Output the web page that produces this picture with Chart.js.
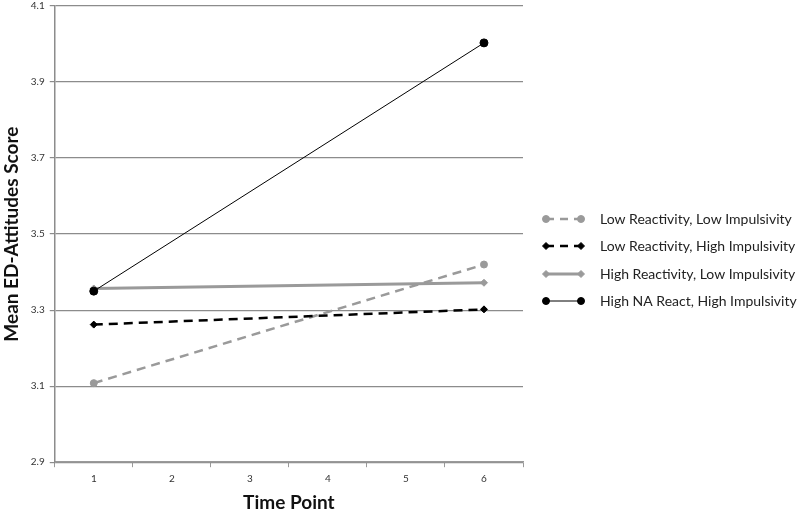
<!DOCTYPE html>
<html>
<head>
<meta charset="utf-8">
<script src="https://cdn.jsdelivr.net/npm/chart.js@4.4.1/dist/chart.umd.min.js"></script>
<style>
  html, body { margin: 0; padding: 0; background: #ffffff; }
  #wrap { width: 800px; height: 516px; }
</style>
</head>
<body>
<div id="wrap"><canvas id="c" width="800" height="516"></canvas></div>
<script>
const categories = ['1', '2', '3', '4', '5', '6'];
const seriesNames = [
  'Low Reactivity, Low Impulsivity',
  'Low Reactivity, High Impulsivity',
  'High Reactivity, Low Impulsivity',
  'High NA React, High Impulsivity'
];
const lowReactLowImp  = [3.108, null, null, null, null, 3.42];
const lowReactHighImp = [3.262, null, null, null, null, 3.302];
const highReactLowImp = [3.357, null, null, null, null, 3.372];
const highNAHighImp   = [3.35,  null, null, null, null, 4.003];
const yTicks = [2.9, 3.1, 3.3, 3.5, 3.7, 3.9, 4.1];

const FONT = "Lato, 'Open Sans', 'Liberation Sans', sans-serif";
const GRAY = '#9a9a9a';
const BLACK = '#000000';

const styles = [
  { color: GRAY,  width: 2.5, dash: [9, 6], point: 'circle',  radius: 3.5 },
  { color: BLACK, width: 2.5, dash: [9, 6], point: 'rectRot', radius: 3.5 },
  { color: GRAY,  width: 3,   dash: [],     point: 'rectRot', radius: 3.5 },
  { color: BLACK, width: 1,   dash: [],     point: 'circle',  radius: 4 }
];
const values = [lowReactLowImp, lowReactHighImp, highReactLowImp, highNAHighImp];

const datasets = values.map((v, i) => ({
  label: seriesNames[i],
  data: v,
  spanGaps: true,
  borderColor: styles[i].color,
  backgroundColor: styles[i].color,
  borderWidth: styles[i].width,
  borderDash: styles[i].dash,
  pointStyle: styles[i].point,
  pointRadius: styles[i].radius,
  pointBackgroundColor: styles[i].color,
  pointBorderColor: styles[i].color,
  pointBorderWidth: 1,
  tension: 0,
  fill: false
}));
datasets.forEach((d, i) => d.order = 4 - i);

const legendPlugin = {
  id: 'sideLegend',
  afterDraw(chart) {
    const ctx = chart.ctx;
    const x0 = 546, x1 = 581, tx = 600;
    const ys = [219, 246, 274, 301];
    ctx.save();
    chart.data.datasets.forEach((ds, i) => {
      const y = ys[i];
      ctx.strokeStyle = ds.borderColor;
      ctx.lineWidth = ds.borderWidth;
      ctx.setLineDash(ds.borderDash.length ? [8, 6] : []);
      ctx.beginPath();
      ctx.moveTo(x0, y);
      ctx.lineTo(x1, y);
      ctx.stroke();
      ctx.setLineDash([]);
      const opts = { pointStyle: ds.pointStyle, radius: Math.min(ds.pointRadius, 3.5), borderWidth: 1, rotation: 0 };
      ctx.fillStyle = ds.borderColor;
      ctx.strokeStyle = ds.borderColor;
      ctx.lineWidth = 1;
      Chart.helpers.drawPoint(ctx, opts, x0, y);
      Chart.helpers.drawPoint(ctx, opts, x1, y);
      ctx.fillStyle = '#222';
      ctx.font = '14px ' + FONT;
      ctx.textAlign = 'left';
      ctx.textBaseline = 'middle';
      ctx.fillText(ds.label, tx, y);
    });
    ctx.restore();
  }
};

new Chart(document.getElementById('c'), {
  type: 'line',
  data: { labels: categories, datasets: datasets },
  options: {
    responsive: false,
    animation: false,
    layout: { padding: { top: 0, right: 277, left: 0, bottom: 2 } },
    plugins: {
      legend: { display: false },
      tooltip: { enabled: false }
    },
    scales: {
      x: {
        type: 'category',
        offset: true,
        grid: {
          offset: true,
          display: true,
          drawOnChartArea: false,
          drawTicks: true,
          tickLength: 5,
          color: '#9a9a9a'
        },
        border: { display: true, color: '#9a9a9a', width: 1.5 },
        ticks: { color: '#333', font: { family: FONT, size: 10 }, padding: 6 },
        title: {
          display: true,
          text: 'Time Point',
          color: '#111',
          font: { family: FONT, size: 19, weight: 'bold' },
          padding: { top: 0, bottom: 0 }
        }
      },
      y: {
        type: 'linear',
        min: 2.9,
        max: 4.1,
        afterBuildTicks(scale) { scale.ticks = yTicks.map(v => ({ value: v })); },
        afterFit(scale) { scale.paddingTop = 6; scale.paddingBottom = 0; },
        grid: {
          display: true,
          drawOnChartArea: true,
          drawTicks: true,
          tickLength: 5,
          color: '#8c8c8c',
          lineWidth: 1.2
        },
        border: { display: true, color: '#8c8c8c', width: 1.5 },
        ticks: {
          color: '#333',
          font: { family: FONT, size: 10 },
          padding: 5,
          callback: v => Number(v).toFixed(1)
        },
        title: {
          display: true,
          text: 'Mean ED-Attitudes Score',
          color: '#111',
          font: { family: FONT, size: 19, weight: 'bold' },
          padding: { top: 0, bottom: 3 }
        }
      }
    }
  },
  plugins: [legendPlugin]
});
</script>
</body>
</html>
